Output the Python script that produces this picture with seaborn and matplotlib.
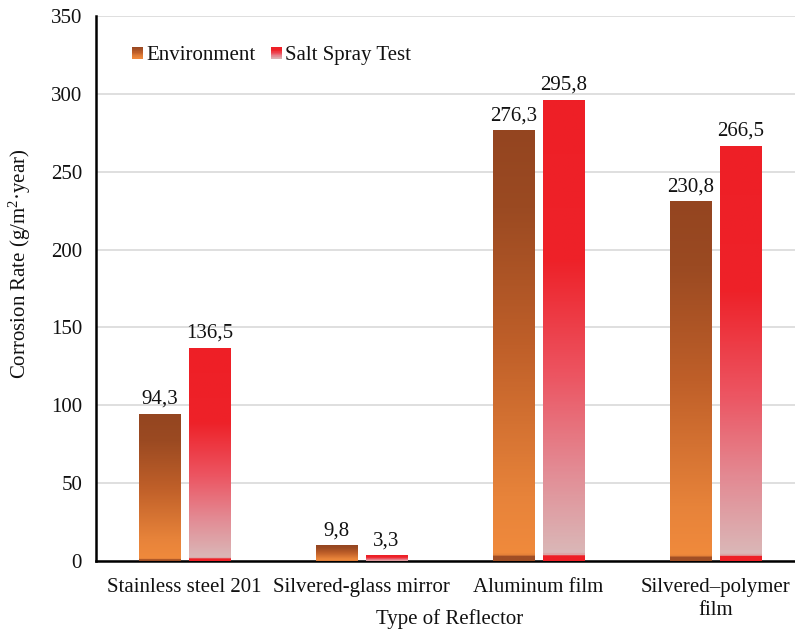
import numpy as np
import pandas as pd
import matplotlib
matplotlib.use("Agg")
import matplotlib.pyplot as plt
import seaborn as sns
from matplotlib.colors import LinearSegmentedColormap
from matplotlib.legend_handler import HandlerBase
from matplotlib.patches import Rectangle

categories = ["Stainless steel 201", "Silvered-glass mirror", "Aluminum film", "Silvered\u2013polymer\nfilm"]
series_names = ["Environment", "Salt Spray Test"]
environment = [94.3, 9.8, 276.3, 230.8]
salt_spray = [136.5, 3.3, 295.8, 266.5]
y_ticks = [0, 50, 100, 150, 200, 250, 300, 350]

sns.set_theme(style="white")
plt.rcParams['font.family'] = ['Liberation Serif', 'DejaVu Serif']
plt.rcParams['mathtext.fontset'] = 'custom'
plt.rcParams['mathtext.rm'] = 'Liberation Serif'
plt.rcParams['mathtext.it'] = 'Liberation Serif:italic'

FS = 15

df = pd.DataFrame({
    "Reflector": categories * 2,
    "Series": [series_names[0]] * 4 + [series_names[1]] * 4,
    "Rate": environment + salt_spray,
})

env_stops = [(0.0, "#944520"), (0.18, "#9B4A22"), (0.5, "#BF5F29"), (0.85, "#E7833A"),
             (0.988, "#F08A3C"), (0.99, "#A04E25"), (1.0, "#A04E25")]
salt_stops = [(0.0, "#EE1F26"), (0.35, "#EE2229"), (0.6, "#EC5562"), (0.8, "#E38A93"),
              (0.988, "#DAB8B8"), (0.99, "#EE1F26"), (1.0, "#EE1F26")]
cmaps = [LinearSegmentedColormap.from_list("env", env_stops),
         LinearSegmentedColormap.from_list("salt", salt_stops)]

fig = plt.figure(figsize=(7.95, 6.29), dpi=100)
ax = fig.add_axes([96 / 795, 1 - 561 / 629, 708 / 795, 545 / 629])

sns.barplot(data=df, x="Reflector", y="Rate", hue="Series", hue_order=series_names,
            order=categories, palette=["#C0612A", "#EE2027"], width=0.565, gap=0.18,
            legend=False, ax=ax, zorder=2)

ax.set_ylim(0, 350)
ax.set_xlim(-0.5, 3.5)
xl, yl = ax.get_xlim(), ax.get_ylim()

grad = np.linspace(0, 1, 400)
for cont, cmap, vals in zip(ax.containers, cmaps, [environment, salt_spray]):
    for p in cont.patches:
        x0, w, h = p.get_x(), p.get_width(), p.get_height()
        img = cmap(grad)[:, None, :]
        ax.imshow(img, extent=[x0, x0 + w, 0, h], aspect='auto', origin='upper',
                  interpolation='bilinear', zorder=3)
        p.set_alpha(0)
    ax.bar_label(cont, labels=[f"{v:.1f}".replace('.', ',') for v in vals],
                 padding=4, fontsize=FS, color="#111111")

ax.set_xlim(xl)
ax.set_ylim(yl)
ax.set_yticks(y_ticks)
ax.yaxis.grid(True, color="#D9D9D9", lw=1.2)
ax.set_axisbelow(True)
for s in ["top", "right"]:
    ax.spines[s].set_visible(False)
for s in ["left", "bottom"]:
    ax.spines[s].set_color("black")
    ax.spines[s].set_linewidth(1.8)
ax.tick_params(axis='both', length=0, labelsize=FS, colors="#111111")
ax.tick_params(axis='y', pad=10)
ax.tick_params(axis='x', pad=12)
for lab in ax.get_xticklabels():
    lab.set_linespacing(1.3)

ax.set_xlabel("Type of Reflector", fontsize=FS, color="#111111")
ax.xaxis.set_label_coords(0.5, -0.1065)
ax.xaxis.label.set_va('center')
ax.set_ylabel("Corrosion Rate (g/m$^{2}$\u00b7year)", fontsize=FS, color="#111111")
ax.yaxis.set_label_coords(-0.0885, 0.545)


class GradHandler(HandlerBase):
    def __init__(self, cmap):
        super().__init__()
        self.cmap = cmap

    def create_artists(self, legend, orig_handle, xdescent, ydescent, width, height, fontsize, trans):
        n = 20
        s = height * 0.8
        x0 = -xdescent + (width - s)
        y0 = -ydescent + (height - s) / 2
        arts = []
        for i in range(n):
            c = self.cmap(0.1 + 0.85 * i / (n - 1))
            r = Rectangle((x0, y0 + s - (i + 1) * s / n), s, s / n + 0.3,
                          facecolor=c, edgecolor='none', transform=trans)
            arts.append(r)
        return arts


h1 = Rectangle((0, 0), 1, 1)
h2 = Rectangle((0, 0), 1, 1)
ax.legend([h1, h2], series_names,
          handler_map={h1: GradHandler(cmaps[0]), h2: GradHandler(cmaps[1])},
          loc='upper left', bbox_to_anchor=(0.02, 0.98), ncol=2, frameon=False,
          fontsize=FS, handlelength=0.7, handletextpad=0.12, columnspacing=0.6,
          labelcolor="#111111")

fig.savefig("out.png", dpi=100)
